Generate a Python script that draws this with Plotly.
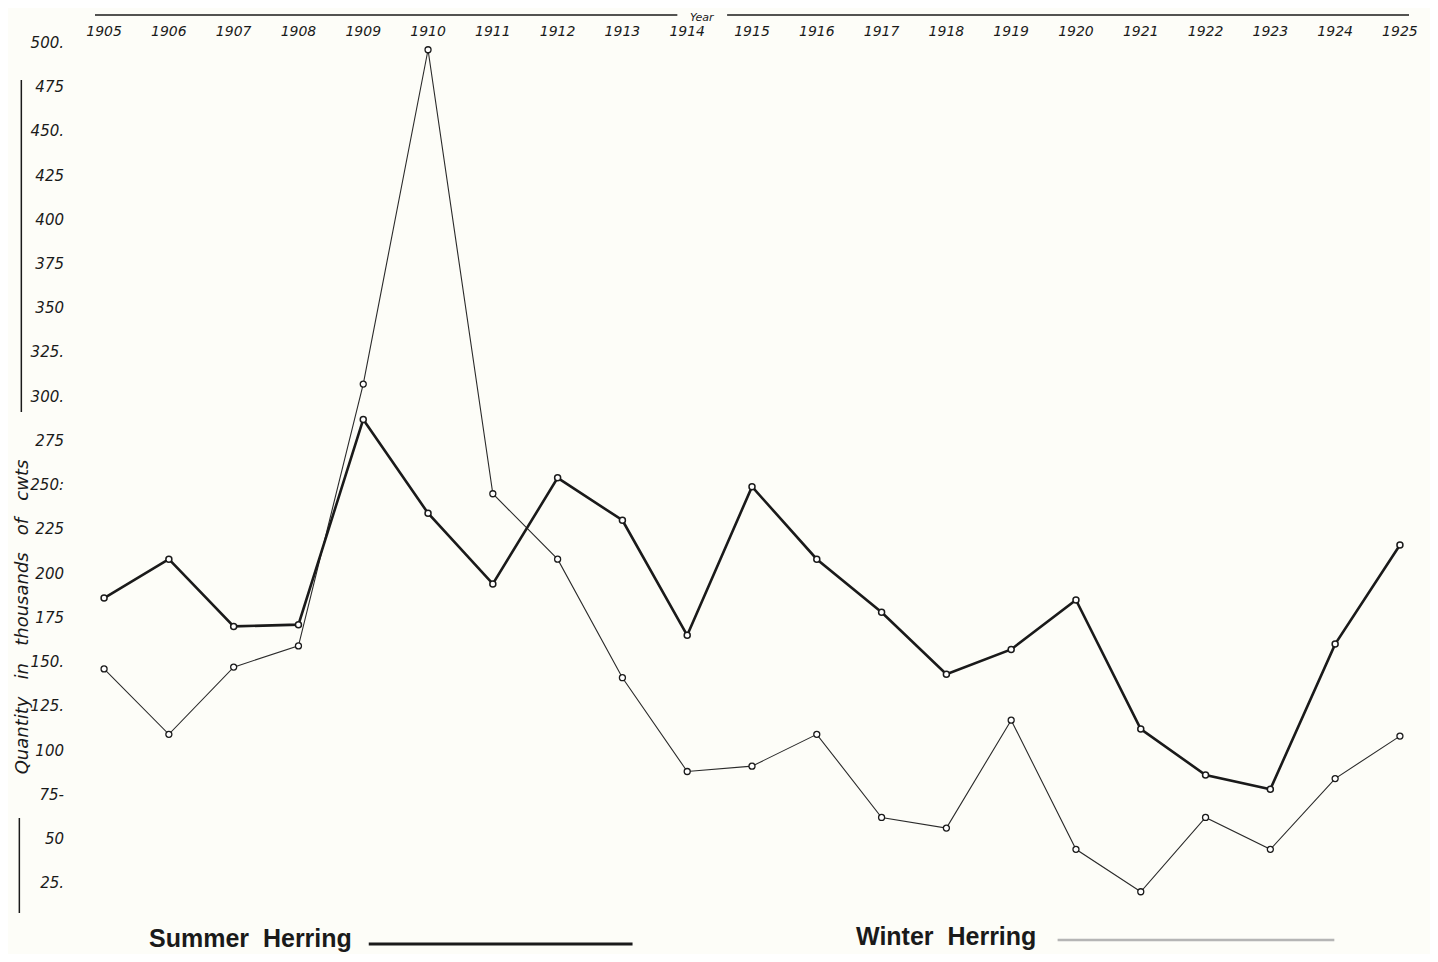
import plotly.graph_objects as go

years = list(range(1905, 1926))
summer = [186, 208, 170, 171, 287, 234, 194, 254, 230, 165, 249, 208, 178, 143, 157, 185, 112, 86, 78, 160, 216]
winter = [146, 109, 147, 159, 307, 496, 245, 208, 141, 88, 91, 109, 62, 56, 117, 44, 20, 62, 44, 84, 108]
y_ticks = [500, 475, 450, 425, 400, 375, 350, 325, 300, 275, 250, 225, 200, 175, 150, 125, 100, 75, 50, 25]
y_tick_text = ["500.", "475", "450.", "425", "400", "375", "350", "325.", "300.", "275", "250:", "225",
               "200", "175", "150.", "125.", "100", "75-", "50", "25."]

ink = "#1a1a1a"
bg = "#fdfdf8"

# page-pixel helpers (plot area spans page x 95..1415, y 40..913)
def px(x):
    return (x - 95) / 1320

def py(y):
    return (913 - y) / 873

fig = go.Figure()
fig.add_trace(go.Scatter(
    x=years, y=winter, mode="lines+markers", name="Winter Herring",
    line=dict(color="#2a2a2a", width=1.1),
    marker=dict(symbol="circle", size=6, color="white", line=dict(color=ink, width=1.3)),
    cliponaxis=False,
))
fig.add_trace(go.Scatter(
    x=years, y=summer, mode="lines+markers", name="Summer Herring",
    line=dict(color=ink, width=2.6),
    marker=dict(symbol="circle", size=6, color="white", line=dict(color=ink, width=1.5)),
    cliponaxis=False,
))

fig.update_layout(
    width=1422, height=946,
    paper_bgcolor=bg, plot_bgcolor=bg,
    margin=dict(l=87, r=15, t=32, b=41),
    showlegend=False,
    xaxis=dict(
        range=[1904.86, 1925.14], side="top", tickmode="array", tickvals=years,
        ticktext=[str(y) for y in years],
        showgrid=False, zeroline=False, showline=False, ticks="",
        tickfont=dict(family="DejaVu Sans", size=14, color=ink, style="italic"),
    ),
    yaxis=dict(
        range=[8, 501.5], tickmode="array", tickvals=y_ticks, ticktext=y_tick_text,
        showgrid=False, zeroline=False, showline=False, ticks="",
        tickfont=dict(family="DejaVu Sans", size=15, color=ink, style="italic"),
        ticklabelstandoff=30,
    ),
)

# top "Year" rule
fig.add_shape(type="line", xref="paper", yref="paper", x0=0, x1=px(680), y0=py(15), y1=py(15),
              line=dict(color=ink, width=1.5))
fig.add_shape(type="line", xref="paper", yref="paper", x0=px(730), x1=1, y0=py(15), y1=py(15),
              line=dict(color=ink, width=1.5))
fig.add_annotation(text="Year", xref="paper", yref="paper", x=px(705), y=py(17),
                   xanchor="center", yanchor="middle", showarrow=False,
                   font=dict(family="DejaVu Sans", size=11, color=ink, style="italic"))

# left axis title with rules
fig.add_annotation(text="Quantity   in   thousands   of   cwts", xref="paper", yref="paper",
                   x=px(21), y=py(617), textangle=-90, showarrow=False,
                   xanchor="center", yanchor="middle",
                   font=dict(family="DejaVu Sans", size=18, color=ink, style="italic"))
fig.add_shape(type="line", xref="paper", yref="paper", x0=px(21), x1=px(21),
              y0=py(80), y1=py(412), line=dict(color=ink, width=1.5))
fig.add_shape(type="line", xref="paper", yref="paper", x0=px(19), x1=px(19),
              y0=py(818), y1=py(913), line=dict(color=ink, width=1.5))

# legend-like captions at bottom
fig.add_annotation(text="<b>Summer  Herring</b>", xref="paper", yref="paper",
                   x=px(147), y=py(938), xanchor="left", yanchor="middle",
                   showarrow=False, font=dict(family="Liberation Sans", size=25, color=ink))
fig.add_shape(type="line", xref="paper", yref="paper", x0=px(370), x1=px(635),
              y0=py(944), y1=py(944), line=dict(color=ink, width=3))
fig.add_annotation(text="<b>Winter  Herring</b>", xref="paper", yref="paper",
                   x=px(857), y=py(936), xanchor="left", yanchor="middle",
                   showarrow=False, font=dict(family="Liberation Sans", size=25, color=ink))
fig.add_shape(type="line", xref="paper", yref="paper", x0=px(1062), x1=px(1340),
              y0=py(940), y1=py(940), line=dict(color="#b5b5b5", width=2.5))

fig.write_html("out.html")
